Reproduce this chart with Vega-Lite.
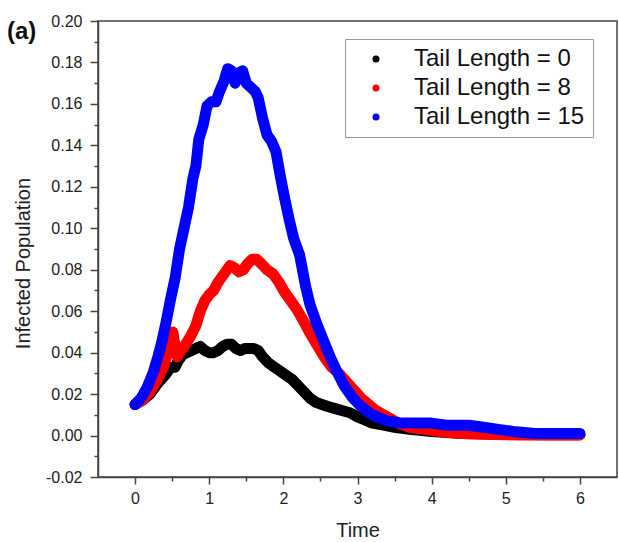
{
  "$schema": "https://vega.github.io/schema/vega-lite/v6.json",
  "width": 519,
  "height": 456,
  "autosize": {"type": "none"},
  "padding": {"left": 98, "top": 21, "right": 2, "bottom": 65},
  "background": "white",
  "title": {"text": "(a)", "anchor": "start", "frame": "group", "fontSize": 24, "fontWeight": "bold", "font": "Liberation Sans", "color": "#111", "dx": -91, "dy": 35},
  "config": {
    "view": {"stroke": "#444", "strokeWidth": 1.5},
    "font": "Liberation Sans"
  },
  "data": {"values": [
    {"t":0.00,"v":0.015,"s":0},{"t":0.10,"v":0.017,"s":0},{"t":0.20,"v":0.020,"s":0},{"t":0.30,"v":0.025,"s":0},{"t":0.40,"v":0.029,"s":0},{"t":0.46,"v":0.032,"s":0},{"t":0.50,"v":0.033,"s":0},{"t":0.54,"v":0.033,"s":0},{"t":0.58,"v":0.036,"s":0},{"t":0.64,"v":0.039,"s":0},{"t":0.70,"v":0.040,"s":0},{"t":0.76,"v":0.041,"s":0},{"t":0.82,"v":0.042,"s":0},{"t":0.88,"v":0.043,"s":0},{"t":0.94,"v":0.041,"s":0},{"t":1.00,"v":0.040,"s":0},{"t":1.06,"v":0.040,"s":0},{"t":1.12,"v":0.041,"s":0},{"t":1.18,"v":0.043,"s":0},{"t":1.24,"v":0.044,"s":0},{"t":1.30,"v":0.044,"s":0},{"t":1.36,"v":0.042,"s":0},{"t":1.42,"v":0.041,"s":0},{"t":1.48,"v":0.042,"s":0},{"t":1.54,"v":0.042,"s":0},{"t":1.60,"v":0.042,"s":0},{"t":1.66,"v":0.041,"s":0},{"t":1.72,"v":0.038,"s":0},{"t":1.80,"v":0.035,"s":0},{"t":1.88,"v":0.033,"s":0},{"t":1.96,"v":0.031,"s":0},{"t":2.04,"v":0.029,"s":0},{"t":2.12,"v":0.027,"s":0},{"t":2.20,"v":0.024,"s":0},{"t":2.28,"v":0.021,"s":0},{"t":2.36,"v":0.018,"s":0},{"t":2.44,"v":0.016,"s":0},{"t":2.52,"v":0.015,"s":0},{"t":2.60,"v":0.014,"s":0},{"t":2.70,"v":0.013,"s":0},{"t":2.80,"v":0.012,"s":0},{"t":2.90,"v":0.011,"s":0},{"t":3.00,"v":0.009,"s":0},{"t":3.10,"v":0.0075,"s":0},{"t":3.20,"v":0.006,"s":0},{"t":3.35,"v":0.005,"s":0},{"t":3.50,"v":0.004,"s":0},{"t":3.70,"v":0.003,"s":0},{"t":4.00,"v":0.002,"s":0},{"t":4.40,"v":0.001,"s":0},{"t":4.80,"v":0.0007,"s":0},{"t":5.20,"v":0.0005,"s":0},{"t":5.60,"v":0.0004,"s":0},{"t":6.00,"v":0.0004,"s":0},
    {"t":0.00,"v":0.015,"s":8},{"t":0.10,"v":0.017,"s":8},{"t":0.20,"v":0.021,"s":8},{"t":0.30,"v":0.027,"s":8},{"t":0.38,"v":0.033,"s":8},{"t":0.44,"v":0.040,"s":8},{"t":0.48,"v":0.047,"s":8},{"t":0.51,"v":0.050,"s":8},{"t":0.54,"v":0.043,"s":8},{"t":0.57,"v":0.038,"s":8},{"t":0.62,"v":0.041,"s":8},{"t":0.68,"v":0.044,"s":8},{"t":0.75,"v":0.048,"s":8},{"t":0.82,"v":0.053,"s":8},{"t":0.88,"v":0.060,"s":8},{"t":0.94,"v":0.065,"s":8},{"t":1.00,"v":0.068,"s":8},{"t":1.06,"v":0.070,"s":8},{"t":1.12,"v":0.074,"s":8},{"t":1.20,"v":0.078,"s":8},{"t":1.28,"v":0.082,"s":8},{"t":1.34,"v":0.081,"s":8},{"t":1.40,"v":0.079,"s":8},{"t":1.46,"v":0.080,"s":8},{"t":1.52,"v":0.083,"s":8},{"t":1.58,"v":0.085,"s":8},{"t":1.64,"v":0.085,"s":8},{"t":1.70,"v":0.083,"s":8},{"t":1.78,"v":0.080,"s":8},{"t":1.86,"v":0.078,"s":8},{"t":1.94,"v":0.074,"s":8},{"t":2.02,"v":0.069,"s":8},{"t":2.10,"v":0.065,"s":8},{"t":2.18,"v":0.061,"s":8},{"t":2.26,"v":0.056,"s":8},{"t":2.35,"v":0.050,"s":8},{"t":2.45,"v":0.044,"s":8},{"t":2.55,"v":0.038,"s":8},{"t":2.65,"v":0.033,"s":8},{"t":2.75,"v":0.030,"s":8},{"t":2.85,"v":0.026,"s":8},{"t":2.95,"v":0.022,"s":8},{"t":3.05,"v":0.018,"s":8},{"t":3.15,"v":0.015,"s":8},{"t":3.25,"v":0.012,"s":8},{"t":3.40,"v":0.009,"s":8},{"t":3.55,"v":0.006,"s":8},{"t":3.70,"v":0.004,"s":8},{"t":3.90,"v":0.003,"s":8},{"t":4.10,"v":0.002,"s":8},{"t":4.40,"v":0.001,"s":8},{"t":4.80,"v":0.0005,"s":8},{"t":5.20,"v":0.0003,"s":8},{"t":5.60,"v":0.0003,"s":8},{"t":6.00,"v":0.0003,"s":8},
    {"t":0.00,"v":0.015,"s":15},{"t":0.08,"v":0.018,"s":15},{"t":0.16,"v":0.023,"s":15},{"t":0.24,"v":0.030,"s":15},{"t":0.30,"v":0.037,"s":15},{"t":0.36,"v":0.045,"s":15},{"t":0.42,"v":0.055,"s":15},{"t":0.48,"v":0.066,"s":15},{"t":0.54,"v":0.076,"s":15},{"t":0.60,"v":0.090,"s":15},{"t":0.66,"v":0.100,"s":15},{"t":0.72,"v":0.110,"s":15},{"t":0.78,"v":0.124,"s":15},{"t":0.82,"v":0.130,"s":15},{"t":0.86,"v":0.143,"s":15},{"t":0.92,"v":0.150,"s":15},{"t":0.97,"v":0.159,"s":15},{"t":1.03,"v":0.161,"s":15},{"t":1.09,"v":0.161,"s":15},{"t":1.14,"v":0.166,"s":15},{"t":1.20,"v":0.171,"s":15},{"t":1.25,"v":0.177,"s":15},{"t":1.30,"v":0.176,"s":15},{"t":1.35,"v":0.170,"s":15},{"t":1.40,"v":0.175,"s":15},{"t":1.45,"v":0.176,"s":15},{"t":1.50,"v":0.170,"s":15},{"t":1.56,"v":0.168,"s":15},{"t":1.62,"v":0.166,"s":15},{"t":1.66,"v":0.163,"s":15},{"t":1.72,"v":0.153,"s":15},{"t":1.78,"v":0.145,"s":15},{"t":1.84,"v":0.142,"s":15},{"t":1.90,"v":0.137,"s":15},{"t":1.96,"v":0.125,"s":15},{"t":2.02,"v":0.114,"s":15},{"t":2.08,"v":0.104,"s":15},{"t":2.14,"v":0.095,"s":15},{"t":2.22,"v":0.087,"s":15},{"t":2.30,"v":0.072,"s":15},{"t":2.36,"v":0.063,"s":15},{"t":2.45,"v":0.054,"s":15},{"t":2.54,"v":0.046,"s":15},{"t":2.63,"v":0.038,"s":15},{"t":2.72,"v":0.031,"s":15},{"t":2.82,"v":0.024,"s":15},{"t":2.94,"v":0.018,"s":15},{"t":3.05,"v":0.014,"s":15},{"t":3.20,"v":0.010,"s":15},{"t":3.40,"v":0.007,"s":15},{"t":3.60,"v":0.006,"s":15},{"t":3.80,"v":0.006,"s":15},{"t":4.00,"v":0.006,"s":15},{"t":4.20,"v":0.005,"s":15},{"t":4.50,"v":0.005,"s":15},{"t":4.70,"v":0.004,"s":15},{"t":4.90,"v":0.003,"s":15},{"t":5.10,"v":0.002,"s":15},{"t":5.40,"v":0.001,"s":15},{"t":5.70,"v":0.001,"s":15},{"t":6.00,"v":0.001,"s":15}
  ]},
  "encoding": {
    "x": {"field": "t", "type": "quantitative",
      "scale": {"domain": [-0.5, 6.5], "nice": false, "zero": false},
      "axis": {"title": "Time", "values": [0,0.5,1,1.5,2,2.5,3,3.5,4,4.5,5,5.5,6],
        "labelExpr": "datum.value % 1 == 0 ? format(datum.value, 'd') : ''",
        "tickSize": {"condition": {"test": "datum.value % 1 == 0", "value": 7}, "value": 4},
        "grid": false, "domainColor": "#444", "domainWidth": 1.5, "tickColor": "#444", "tickWidth": 1.5,
        "labelFontSize": 16, "labelColor": "#222", "labelPadding": 6, "labelFont": "Liberation Sans",
        "titleFontSize": 20, "titleFontWeight": "normal", "titleColor": "#222", "titleFont": "Liberation Sans",
        "titleY": 59, "titleBaseline": "alphabetic"}},
    "y": {"field": "v", "type": "quantitative",
      "scale": {"domain": [-0.02, 0.2], "nice": false, "zero": false},
      "axis": {"title": "Infected Population",
        "values": [-0.02,-0.01,0,0.01,0.02,0.03,0.04,0.05,0.06,0.07,0.08,0.09,0.1,0.11,0.12,0.13,0.14,0.15,0.16,0.17,0.18,0.19,0.2],
        "labelExpr": "round(datum.value*100) % 2 == 0 ? (datum.value < -0.001 ? '-' : '') + format(abs(datum.value), '.2f') : ''",
        "tickSize": {"condition": {"test": "round(datum.value*100) % 2 == 0", "value": 8}, "value": 4},
        "grid": false, "domainColor": "#444", "domainWidth": 1.5, "tickColor": "#444", "tickWidth": 1.5,
        "labelFontSize": 16, "labelColor": "#222", "labelPadding": 8, "labelFont": "Liberation Sans",
        "titleFontSize": 20, "titleFontWeight": "normal", "titleColor": "#222", "titleFont": "Liberation Sans",
        "titleX": -69, "titleY": 242, "titleBaseline": "alphabetic"}},
    "color": {"field": "s", "type": "nominal",
      "scale": {"domain": [0, 8, 15], "range": ["#000000", "#ff0000", "#0000ff"]},
      "legend": {"title": null, "orient": "none", "legendX": 247, "legendY": 18,
        "labelExpr": "'Tail Length = ' + datum.label", "labelLimit": 0,
        "labelFontSize": 24, "labelFont": "Liberation Sans", "labelColor": "#111",
        "symbolType": "circle", "symbolSize": 50, "symbolOffset": 11, "labelOffset": 26,
        "padding": 8, "rowPadding": 5, "strokeColor": "#999", "fillColor": "white",
        "symbolStrokeWidth": 0,
        "encode": {"symbols": {"update": {"fill": {"scale": "color", "field": "value"}, "strokeWidth": {"value": 0}, "opacity": {"value": 1}}}}}}
  },
  "layer": [
    {"transform": [{"filter": "datum.s == 0"}], "mark": {"type": "line", "strokeWidth": 11, "strokeCap": "round", "strokeJoin": "round"}},
    {"transform": [{"filter": "datum.s == 8"}], "mark": {"type": "line", "strokeWidth": 11, "strokeCap": "round", "strokeJoin": "round"}},
    {"transform": [{"filter": "datum.s == 15"}], "mark": {"type": "line", "strokeWidth": 11, "strokeCap": "round", "strokeJoin": "round"}}
  ]
}
